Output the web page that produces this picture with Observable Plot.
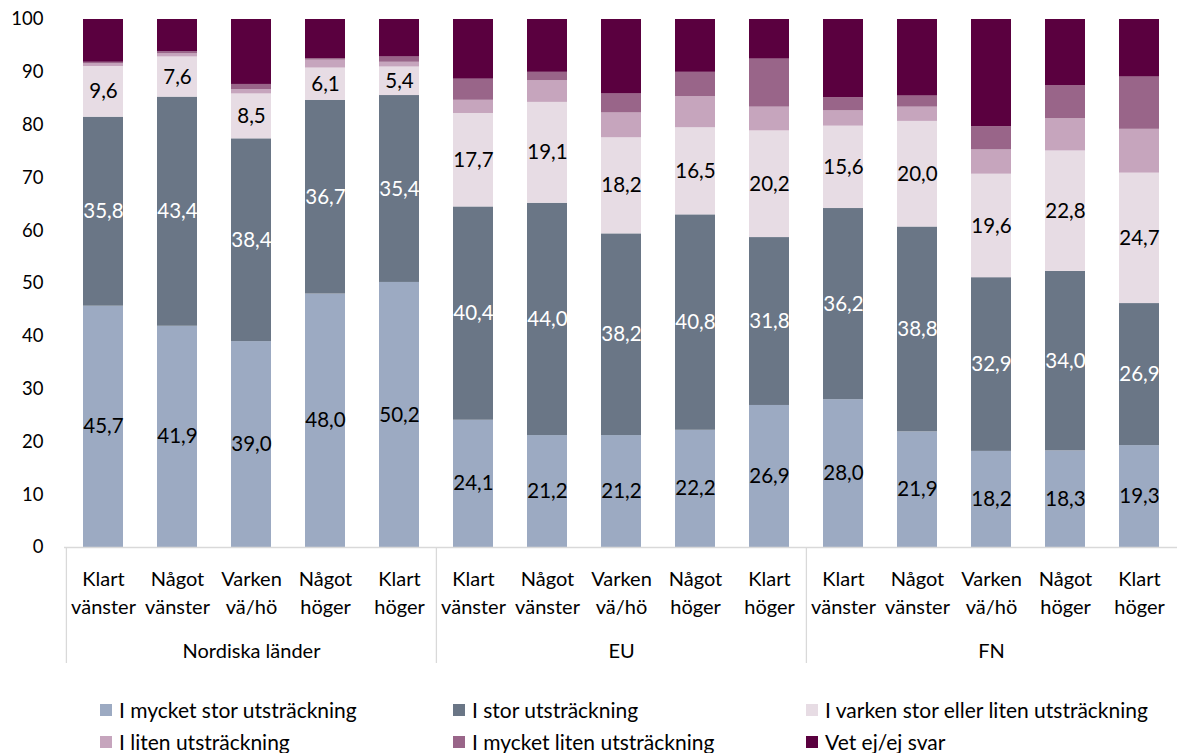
<!DOCTYPE html>
<html><head><meta charset="utf-8">
<script src="https://cdn.jsdelivr.net/npm/d3@7"></script>
<script src="https://cdn.jsdelivr.net/npm/@observablehq/plot@0.6"></script>
<style>
html,body{margin:0;padding:0;background:#fff;font-family:Lato,"Open Sans",sans-serif;overflow:hidden}
#wrap{position:relative;width:1177px;height:753px;overflow:hidden;background:#fff}
#chart{position:absolute;left:0;top:0}
.li{position:absolute;display:flex;align-items:center;font-size:21px;color:#000;white-space:nowrap;line-height:22px;height:22px}
.li span.sw{display:inline-block;width:12px;height:12px;margin-right:7px}
</style></head><body>
<div id="wrap"><div id="chart"></div><div id="legend"></div></div>
<script>
const groups = ["Nordiska länder", "EU", "FN"];
const categories = ["Klart vänster", "Något vänster", "Varken vä/hö", "Något höger", "Klart höger"];
const categoryLines = [["Klart", "vänster"], ["Något", "vänster"], ["Varken", "vä/hö"], ["Något", "höger"], ["Klart", "höger"]];
const seriesNames = ["I mycket stor utsträckning", "I stor utsträckning", "I varken stor eller liten utsträckning", "I liten utsträckning", "I mycket liten utsträckning", "Vet ej/ej svar"];
const colors = ["#9caac2", "#6a7686", "#e7dce4", "#c6a5bd", "#996589", "#5a003f"];
const yTicks = [0, 10, 20, 30, 40, 50, 60, 70, 80, 90, 100];

// values per series, bars ordered Nordiska(5), EU(5), FN(5)
const s1 = [45.7, 41.9, 39.0, 48.0, 50.2, 24.1, 21.2, 21.2, 22.2, 26.9, 28.0, 21.9, 18.2, 18.3, 19.3];
const s2 = [35.8, 43.4, 38.4, 36.7, 35.4, 40.4, 44.0, 38.2, 40.8, 31.8, 36.2, 38.8, 32.9, 34.0, 26.9];
const s3 = [9.6, 7.6, 8.5, 6.1, 5.4, 17.7, 19.1, 18.2, 16.5, 20.2, 15.6, 20.0, 19.6, 22.8, 24.7];
const s4 = [0.5, 0.6, 0.8, 1.5, 0.9, 2.5, 4.1, 4.7, 5.9, 4.5, 2.9, 2.7, 4.6, 6.1, 8.3];
const s5 = [0.3, 0.4, 1.0, 0.3, 1.0, 4.0, 1.6, 3.6, 4.6, 9.1, 2.5, 2.1, 4.4, 6.3, 9.9];
const s6 = [8.1, 6.1, 12.3, 7.4, 7.1, 11.3, 10.0, 14.1, 10.0, 7.5, 14.8, 14.5, 20.3, 12.5, 10.9];
const seriesValues = [s1, s2, s3, s4, s5, s6];

const bars = [];
groups.forEach((g, gi) => categories.forEach((c, ci) => bars.push({key: g + "|" + c, group: g, gi, ci, idx: gi * categories.length + ci})));
const keys = bars.map(b => b.key);

const data = [];
bars.forEach(b => seriesNames.forEach((s, si) => data.push({key: b.key, series: s, si, value: seriesValues[si][b.idx]})));
const labelData = data.filter(d => d.si < 3);

const W = 1177, H = 680, ML = 64, MR = 0, MT = 19, MB = 133;
const step = (W - ML - MR) / keys.length;
const fmt = v => v.toFixed(1).replace(".", ",");

const firstOfGroup = bars.filter(b => b.ci === 0);
const midOfGroup = bars.filter(b => b.ci === 2);

const chart = Plot.plot({
  width: W, height: H, marginLeft: ML, marginRight: MR, marginTop: MT, marginBottom: MB,
  style: {fontFamily: "Lato, 'Open Sans', sans-serif", fontSize: "20px", color: "#000", background: "#fff", overflow: "visible"},
  x: {domain: keys, paddingInner: 0.46, paddingOuter: 0.23, axis: null},
  y: {domain: [0, 100], axis: null, label: null},
  color: {domain: seriesNames, range: colors},
  marks: [
    Plot.barY(data, {x: "key", y: "value", fill: "series", order: seriesNames}),
    Plot.text(labelData, Plot.stackY({x: "key", y: "value", z: "series", order: seriesNames,
      text: d => fmt(d.value), fill: d => d.si === 1 ? "#ffffff" : "#000000", fontSize: 20.5})),
    Plot.ruleY([0], {stroke: "#d9d9d9", strokeWidth: 1.3}),
    Plot.axisY({ticks: yTicks, tickSize: 0, tickPadding: 21, fontSize: 18.5, label: null, tickFormat: d => String(d)}),
    Plot.text(bars, {x: "key", y: () => 0, text: b => categoryLines[b.ci][0], lineAnchor: "bottom", dy: 38, fontSize: 20}),
    Plot.text(bars, {x: "key", y: () => 0, text: b => categoryLines[b.ci][1], lineAnchor: "bottom", dy: 66, fontSize: 20}),
    Plot.text(midOfGroup, {x: "key", y: () => 0, text: "group", lineAnchor: "bottom", dy: 110, fontSize: 20}),
    Plot.ruleX(firstOfGroup, {x: "key", dx: -step / 2, stroke: "#d9d9d9", strokeWidth: 1.3, insetTop: H - MT - MB, insetBottom: -116})
  ]
});
document.getElementById("chart").appendChild(chart);

const legendPos = [[100, 710], [453, 710], [806, 710], [100, 742], [453, 742], [806, 742]];
const leg = document.getElementById("legend");
seriesNames.forEach((s, i) => {
  const el = document.createElement("div");
  el.className = "li";
  el.style.left = legendPos[i][0] + "px";
  el.style.top = (legendPos[i][1] - 11) + "px";
  el.innerHTML = `<span class="sw" style="background:${colors[i]}"></span>${s}`;
  leg.appendChild(el);
});
</script>
</body></html>
